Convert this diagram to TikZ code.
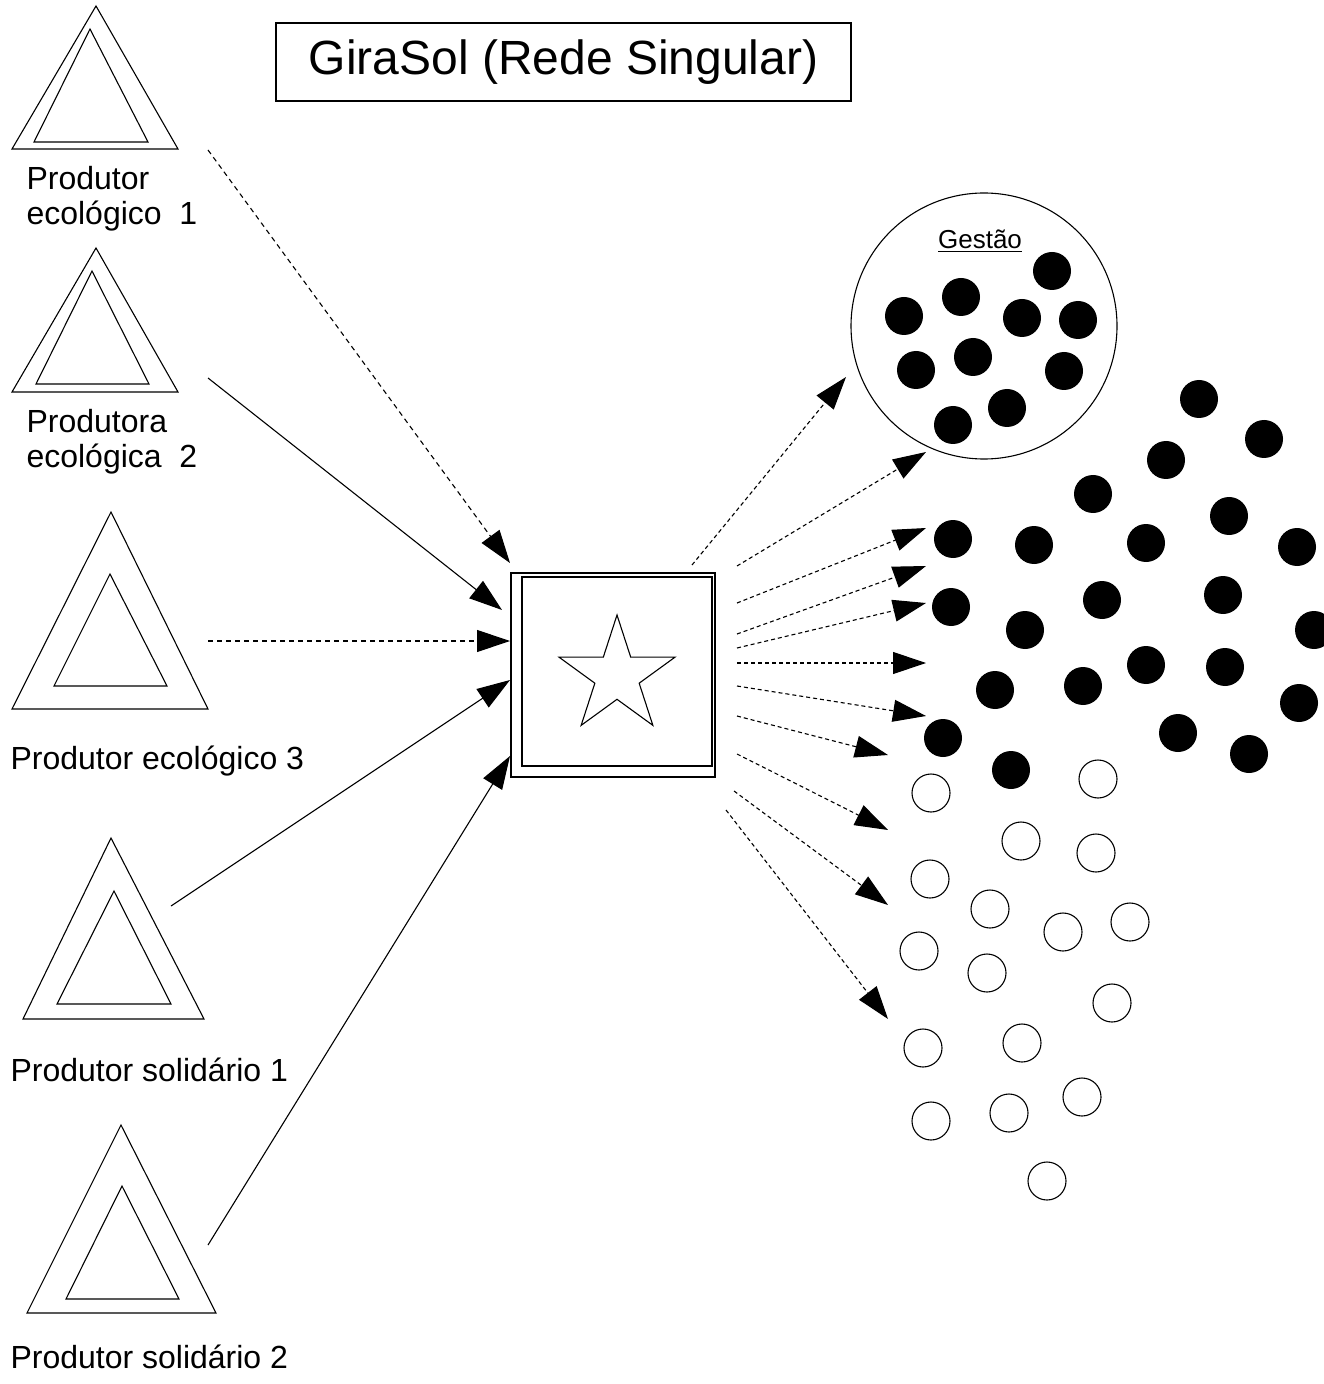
\documentclass[tikz,border=0pt]{standalone}
\usepackage{fontspec}
\setmainfont{Liberation Sans}
\usetikzlibrary{shapes.geometric,arrows.meta}

\begin{document}
\begin{tikzpicture}[
    x=0.5pt, y=-0.5pt,
    line width=0.55pt,
    % define styles
    rot/.style={
        anchor=north west,
        align=left,
        inner sep=0pt,
        font=\fontsize{16pt}{17.5pt}\selectfont
    },
    seta/.style={
        -{Triangle[length=16.5pt,width=11pt]}
    },
    trac/.style={
        seta,
        dash pattern=on 2.5pt off 2pt
    },
    cheio/.style={
        circle,
        fill=black,
        inner sep=0pt,
        minimum size=19pt
    },
    vazio/.style={
        circle,
        draw,
        inner sep=0pt,
        minimum size=19pt
    }
]
\useasboundingbox (0,0) rectangle (1323,1384);

% Title
\node[draw, minimum width=287.5pt, minimum height=39pt, font=\fontsize{24pt}{28pt}\selectfont] (tit) at (563.5,62) {GiraSol (Rede Singular)};

% Producers, outer and inner triangle
\draw (96,6) -- (12,149) -- (178,149) -- cycle;
\draw (90,29) -- (34,142) -- (148,142) -- cycle;
\draw (96,248) -- (12,392) -- (178,392) -- cycle;
\draw (92,271) -- (36,384) -- (149,384) -- cycle;
\draw (111,512) -- (12,709) -- (208,709) -- cycle;
\draw (110,574) -- (54,686) -- (167,686) -- cycle;
\draw (111,838) -- (23,1019) -- (204,1019) -- cycle;
\draw (114,891) -- (57,1004) -- (171,1004) -- cycle;
\draw (121,1125) -- (27,1313) -- (216,1313) -- cycle;
\draw (122,1186) -- (66,1299) -- (179,1299) -- cycle;

% Labels of the producers
\node[rot] (eco1) at (26,166) {Produtor\\ecológico\ \ 1};
\node[rot] (eco2) at (26,409) {Produtora\\ecológica\ \ 2};
\node[rot] (eco3) at (10,745) {Produtor ecológico 3};
\node[rot] (sol1) at (10,1057) {Produtor solidário 1};
\node[rot] (sol2) at (10,1344) {Produtor solidário 2};

% Central box with the star
\node[draw, minimum size=102pt, inner sep=0pt] (caixa) at (613,675) {};
\draw (522,577) rectangle (712,766);
\node[draw, star, star points=5, star point ratio=2.618, minimum size=61pt, inner sep=0pt] (estrela) at (617,676) {};

% Management circle
\node[circle, draw, minimum size=133pt, inner sep=0pt] (gestao) at (984,326) {};
\node[font=\fontsize{13pt}{15pt}\selectfont, inner sep=0pt] (gtxt) at (980,241) {\underline{Gestão}};
\foreach \x/\y [count=\i] in {1052/271, 961/297, 904/316, 1022/318, 1078/320, 973/357, 916/370, 1064/371, 1007/408, 953/425}
    \node[cheio] (g\i) at (\x,\y) {};

% Filled and empty dots
\foreach \x/\y [count=\i] in {1199/399, 1264/439, 1166/460, 1093/494, 1229/516, 953/539, 1034/545, 1146/543, 1297/547, 951/607, 1102/600, 1223/595, 1025/630, 1314/630, 1146/665, 1225/667, 995/690, 1083/686, 1299/703, 943/738, 1178/733, 1249/754, 1011/770}
    \node[cheio] (c\i) at (\x,\y) {};
\foreach \x/\y [count=\i] in {931/793, 1098/779, 1021/841, 1096/853, 930/879, 990/909, 1130/922, 1063/932, 919/951, 987/973, 1112/1003, 1022/1043, 923/1048, 1082/1097, 1009/1113, 931/1121, 1047/1181}
    \node[vazio] (v\i) at (\x,\y) {};

% Arrows into the box
\coordinate (p1) at (208,150);
\coordinate (p2) at (208,378);
\coordinate (p3) at (208,641);
\coordinate (p4) at (171,906);
\coordinate (p5) at (208,1245);
\coordinate (e1) at (510,563);
\coordinate (e2) at (502,610);
\coordinate (e3) at (510,641);
\coordinate (e4) at (510,680);
\coordinate (e5) at (510,756);
\draw[trac] (p1) -- (e1);
\draw[seta] (p2) -- (e2);
\draw[trac] (p3) -- (e3);
\draw[seta] (p4) -- (e4);
\draw[seta] (p5) -- (e5);

% Arrows out of the box
\foreach \xa/\ya/\xb/\yb [count=\i] in {692/565/846/377, 737/566/926/452, 737/603/926/528, 737/634/926/566, 737/648/926/603, 737/663/926/663, 737/686/926/716, 737/716/888/755, 737/754/888/830, 734/791/888/905, 726/810/888/1019} {
    \coordinate (s\i) at (\xa,\ya);
    \coordinate (t\i) at (\xb,\yb);
    \draw[trac, dash pattern=on 2pt off 1.5pt] (s\i) -- (t\i);
}
\end{tikzpicture}
\end{document}
